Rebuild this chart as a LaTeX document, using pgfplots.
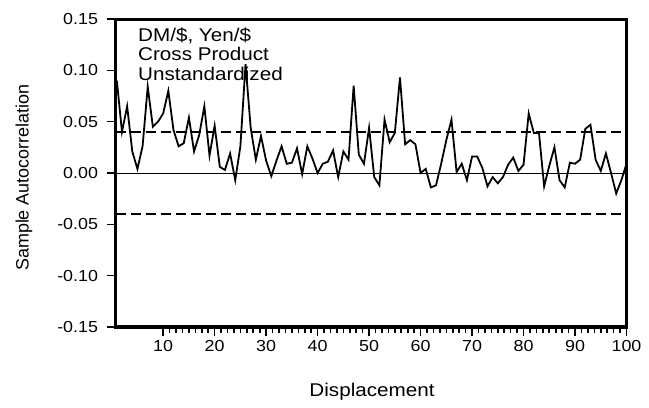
\documentclass[border=0pt]{standalone}
\usepackage{fontspec}
\setmainfont{Liberation Sans}[FakeStretch=1.12]
\newfontfamily\uprightsans{Liberation Sans}
\usepackage{pgfplots}
\pgfplotsset{compat=1.18}

\begin{document}
\begin{tikzpicture}
\useasboundingbox (0,0) rectangle (649bp,408bp);
\begin{axis}[
  at={(115.5bp,81bp)}, anchor=south west,
  scale only axis,
  width=511bp, height=308bp,
  xmin=0.74, xmax=100,
  ymin=-0.15, ymax=0.15,
  axis line style={line width=3bp},
  xtick={10,20,...,100},
  minor x tick num=7,
  ytick={-0.15,-0.10,...,0.151},
  xtick pos=bottom, ytick pos=left,
  tick align=outside,
  major tick length=8.5bp, minor tick length=5.5bp,
  every tick/.style={black, line width=1.6bp},
  /pgf/number format/assume math mode=true,
  yticklabel style={/pgf/number format/fixed, /pgf/number format/fixed zerofill,
    /pgf/number format/precision=2, xshift=-5.5bp},
  ticklabel style={font=\fontsize{16}{19}\selectfont},
  xticklabel style={yshift=-1bp},
  xlabel={Displacement},
  ylabel={Sample Autocorrelation},
  xlabel style={font=\fontsize{18.5}{22}\selectfont,
    at={(axis description cs:0.502,-0.227)}, anchor=base},
  ylabel style={font=\uprightsans\fontsize{18}{22}\selectfont,
    at={(axis description cs:-0.179,0.485)}, anchor=center},
  clip=false,
]
% zero line and +/- 2 standard error bands
\addplot[black, line width=1bp] coordinates {(0.74,0) (100,0)};
\addplot[black, line width=1.7bp, dash pattern=on 10bp off 5bp] coordinates {(0.74,0.04) (100,0.04)};
\addplot[black, line width=1.7bp, dash pattern=on 10bp off 5bp] coordinates {(0.74,-0.04) (100,-0.04)};
% autocorrelation function
\addplot[black, line width=1.8bp, line join=miter] table {
1 0.090
2 0.040
3 0.065
4 0.021
5 0.004
6 0.026
7 0.084
8 0.045
9 0.050
10 0.058
11 0.080
12 0.042
13 0.026
14 0.029
15 0.054
16 0.021
17 0.037
18 0.065
19 0.017
20 0.046
21 0.006
22 0.003
23 0.019
24 -0.007
25 0.026
26 0.106
27 0.044
28 0.013
29 0.036
30 0.012
31 -0.003
32 0.012
33 0.026
34 0.009
35 0.010
36 0.024
37 -0.001
38 0.026
39 0.014
40 0.000
41 0.009
42 0.011
43 0.022
44 -0.004
45 0.021
46 0.013
47 0.085
48 0.018
49 0.009
50 0.044
51 -0.004
52 -0.012
53 0.052
54 0.030
55 0.039
56 0.093
57 0.028
58 0.032
59 0.028
60 0.000
61 0.004
62 -0.014
63 -0.012
64 0.009
65 0.032
66 0.052
67 0.001
68 0.009
69 -0.007
70 0.016
71 0.016
72 0.005
73 -0.013
74 -0.004
75 -0.010
76 -0.004
77 0.008
78 0.015
79 0.002
80 0.008
81 0.058
82 0.039
83 0.039
84 -0.013
85 0.007
86 0.025
87 -0.007
88 -0.014
89 0.010
90 0.009
91 0.013
92 0.043
93 0.047
94 0.013
95 0.002
96 0.019
97 0.000
98 -0.020
99 -0.007
100 0.009
};
\node[anchor=base west, font=\fontsize{18.5}{22}\selectfont, inner sep=0pt] at (rel axis cs:0.044,0.926) {DM/\$, Yen/\$};
\node[anchor=base west, font=\fontsize{18.5}{22}\selectfont, inner sep=0pt] at (rel axis cs:0.044,0.865) {Cross Product};
\node[anchor=base west, font=\fontsize{18.5}{22}\selectfont, inner sep=0pt] at (rel axis cs:0.044,0.799) {Unstandardized};
\end{axis}
\end{tikzpicture}
\end{document}
